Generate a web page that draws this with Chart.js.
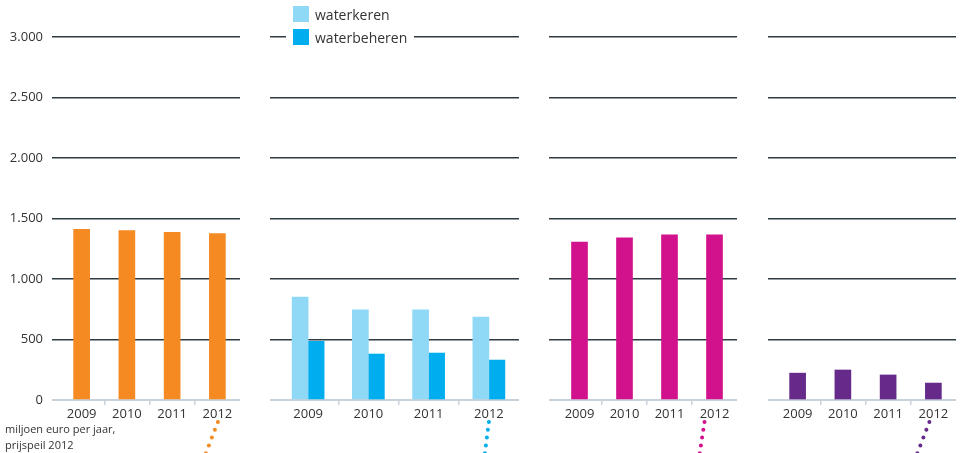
<!DOCTYPE html>
<html lang="nl">
<head>
<meta charset="utf-8">
<title>Uitgaven per jaar</title>
<script src="https://cdn.jsdelivr.net/npm/chart.js@4.4.1/dist/chart.umd.min.js"></script>
<style>
  html, body { margin: 0; padding: 0; background: #fff; }
  body {
    width: 979px; height: 453px; position: relative; overflow: hidden;
    font-family: 'Open Sans', sans-serif; color: #333;
  }
  canvas { position: absolute; top: 0; }
  .legend {
    position: absolute; left: 286px; top: 6px; z-index: 2;
    background: #fff; padding: 0 7px; font-size: 14px;
  }
  .legend div { display: flex; align-items: center; height: 16px; margin-bottom: 7px; }
  .legend span { display: inline-block; width: 16px; height: 16px; margin-right: 6px; }
  .note {
    position: absolute; left: 5px; top: 421px;
    font-size: 11px; line-height: 16px; color: #333;
  }
</style>
</head>
<body>

<canvas id="p1" width="240" height="453" style="left:0"></canvas>
<canvas id="p2" width="249" height="453" style="left:270px"></canvas>
<canvas id="p3" width="188" height="453" style="left:549px"></canvas>
<canvas id="p4" width="188" height="453" style="left:768px"></canvas>

<div class="legend">
  <div><span style="background:#8fd8f6"></span>waterkeren</div>
  <div><span style="background:#00aeef"></span>waterbeheren</div>
</div>

<div class="note">miljoen euro per jaar,<br>prijspeil 2012</div>

<script>
"use strict";

// categories and scale
const years = ["2009", "2010", "2011", "2012"];
const yTicks = [0, 500, 1000, 1500, 2000, 2500, 3000];

// series values, miljoen euro per jaar
const orangeBars = [1410, 1400, 1385, 1375];
const waterkeren = [850, 745, 745, 685];
const waterbeheren = [485, 380, 388, 330];
const magentaBars = [1305, 1340, 1365, 1365];
const purpleBars = [222, 248, 207, 140];

const FONT = "'Open Sans', sans-serif";
const GRID = "#2e3b43";
const AXIS = "#c9d2d9";

// 3.000 style thousands separator
function nlNumber(v) {
  return String(v).replace(/\B(?=(\d{3})+(?!\d))/g, ".");
}

// dotted line hanging below the last year label
const connector = {
  id: "connector",
  afterDraw(chart, args, opts) {
    const x0 = chart.scales.x.getPixelForValue(years.length - 1) + opts.dx;
    const ctx = chart.ctx;
    ctx.save();
    ctx.fillStyle = opts.color;
    for (let i = 0, y = 422; y < 460; i++, y += 7.8) {
      ctx.beginPath();
      ctx.arc(x0 + i * opts.slope, y, 2, 0, Math.PI * 2);
      ctx.fill();
    }
    ctx.restore();
  },
};

// lead = how far the grid lines run left of the first category
function makePanel(id, datasets, showY, lead, dot) {
  new Chart(document.getElementById(id), {
    type: "bar",
    data: { labels: years, datasets },
    options: {
      responsive: false,
      animation: false,
      layout: { padding: { top: 37, left: 0, right: 0, bottom: 0 } },
      plugins: {
        legend: { display: false },
        tooltip: { enabled: false },
        connector: dot,
      },
      scales: {
        x: {
          z: 1,
          grid: {
            offset: true,
            drawOnChartArea: false,
            tickLength: 5,
            lineWidth: 1.5,
            color: (c) => (c.index > 0 && c.index < years.length ? AXIS : "transparent"),
          },
          border: { display: false },
          ticks: { color: "#333", padding: 1, maxRotation: 0, font: { family: FONT, size: 13 } },
          afterFit: (s) => { s.height = 53; },
        },
        y: {
          z: 1,
          min: yTicks[0],
          max: yTicks[yTicks.length - 1],
          afterBuildTicks: (s) => { s.ticks = yTicks.map((v) => ({ value: v })); },
          grid: {
            drawTicks: true,
            tickLength: lead,
            lineWidth: (c) => (c.tick && c.tick.value === 0 ? 2 : 1.5),
            color: (c) => (c.tick && c.tick.value === 0 ? AXIS : GRID),
          },
          border: { display: false },
          ticks: {
            display: showY,
            padding: 9,
            color: "#333",
            font: { family: FONT, size: 13 },
            callback: (v) => nlNumber(v),
          },
          afterFit: (s) => { s.width = (showY ? 52 : 0) + lead; },
        },
      },
    },
    plugins: [connector],
  });
}

function single(data, color) {
  return [{ data, backgroundColor: color, barThickness: 16 }];
}

makePanel("p1", single(orangeBars, "#f58a22"), true, 7, { color: "#f58a22", dx: 0.5, slope: -3 });
makePanel("p2", [
  { label: "waterkeren", data: waterkeren, backgroundColor: "#8fd8f6", barThickness: 16 },
  { label: "waterbeheren", data: waterbeheren, backgroundColor: "#00aeef", barThickness: 16 },
], false, 8, { color: "#00aeef", dx: 0, slope: -1 });
makePanel("p3", single(magentaBars, "#d2118d"), false, 8, { color: "#d2118d", dx: -10, slope: -1.2 });
makePanel("p4", single(purpleBars, "#662a8a"), false, 7, { color: "#662a8a", dx: -4, slope: -3 });
</script>
</body>
</html>
